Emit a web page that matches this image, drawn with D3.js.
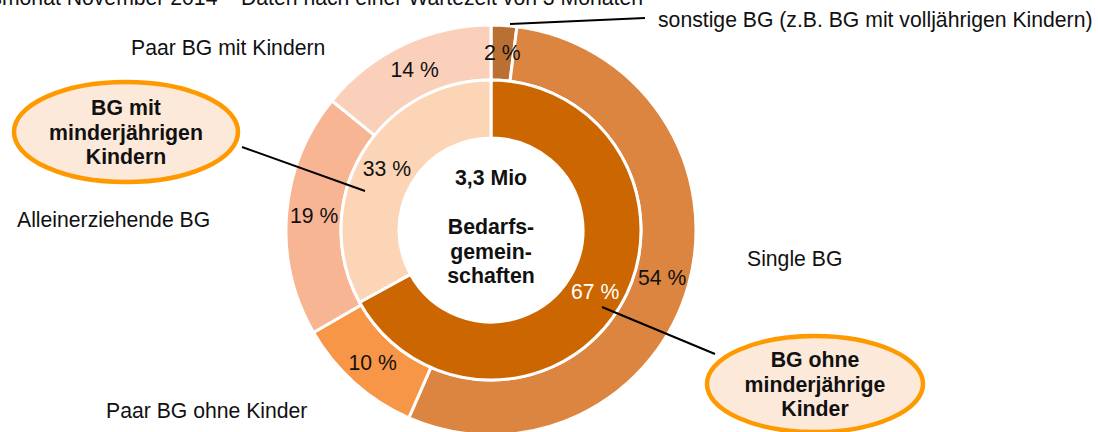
<!DOCTYPE html>
<html>
<head>
<meta charset="utf-8">
<script src="https://cdn.jsdelivr.net/npm/d3@7"></script>
<style>
  body { margin: 0; background: #fff; }
  svg { display: block; font-family: "Liberation Sans", Arial, sans-serif; }
</style>
</head>
<body>
<div id="chart"></div>
<script>
// ----------------------------------------
// DATA
// ----------------------------------------
const innerLabels = ["BG ohne minderjährige Kinder", "BG mit minderjährigen Kindern"];
const innerValues = [67, 33];
const innerColors = ["#CC6600", "#FBD5B5"];

const outerLabels = ["sonstige BG (z.B. BG mit volljährigen Kindern)", "Single BG",
  "Paar BG ohne Kinder", "Alleinerziehende BG", "Paar BG mit Kindern"];
const outerValues = [2, 54, 10, 19, 14];
const outerColors = ["#BB7033", "#DC8540", "#F79646", "#F8B593", "#FAD0BB"];

const centerLines = ["3,3 Mio", "", "Bedarfs-", "gemein-", "schaften"];
const subtitle = "Berichtsmonat November 2014 – Daten nach einer Wartezeit von 3 Monaten";

// ----------------------------------------
// SETUP
// ----------------------------------------
const width = 1098, height = 432;
const cx = 491, cy = 230;
const rHole = 92, rMid = 150, rOuter = 205;
const fs = "21.2px", fsBold = "21.3px";

const svg = d3.select("#chart")
  .append("svg")
  .attr("width", width)
  .attr("height", height);

const pie = d3.pie().sort(null).value(d => d);

const arcInner = d3.arc().innerRadius(rHole).outerRadius(rMid);
const arcOuter = d3.arc().innerRadius(rMid).outerRadius(rOuter);

const g = svg.append("g").attr("transform", `translate(${cx},${cy})`);

// ----------------------------------------
// RINGS
// ----------------------------------------
const innerArcs = pie(innerValues);
const outerArcs = pie(outerValues);

g.selectAll(".outer")
  .data(outerArcs)
  .join("path")
  .attr("class", "outer")
  .attr("d", arcOuter)
  .attr("fill", (d, i) => outerColors[i])
  .attr("stroke", "white")
  .attr("stroke-width", 3);

g.selectAll(".inner")
  .data(innerArcs)
  .join("path")
  .attr("class", "inner")
  .attr("d", arcInner)
  .attr("fill", (d, i) => innerColors[i])
  .attr("stroke", "white")
  .attr("stroke-width", 3);

// percent labels
g.selectAll(".outer-pct")
  .data(outerArcs)
  .join("text")
  .attr("class", "outer-pct")
  .attr("x", d => arcOuter.centroid(d)[0])
  .attr("y", d => arcOuter.centroid(d)[1])
  .attr("text-anchor", "middle")
  .attr("dominant-baseline", "central")
  .style("font-size", fs)
  .attr("fill", "#111")
  .text(d => d.data + " %");

g.selectAll(".inner-pct")
  .data(innerArcs)
  .join("text")
  .attr("class", "inner-pct")
  .attr("x", d => arcInner.centroid(d)[0])
  .attr("y", d => arcInner.centroid(d)[1])
  .attr("text-anchor", "middle")
  .attr("dominant-baseline", "central")
  .style("font-size", fs)
  .attr("fill", (d, i) => i === 0 ? "white" : "#111")
  .text(d => d.data + " %");

// center text
g.selectAll(".center-txt")
  .data(centerLines)
  .join("text")
  .attr("class", "center-txt")
  .attr("x", 0)
  .attr("y", (d, i) => -45 + i * 24.5)
  .attr("text-anchor", "middle")
  .style("font-size", fsBold)
  .style("font-weight", "bold")
  .attr("fill", "#111")
  .text(d => d);

// ----------------------------------------
// CATEGORY LABELS
// ----------------------------------------
const labelPos = [
  { x: 658, y: 27 },
  { x: 747, y: 266 },
  { x: 106, y: 418 },
  { x: 17, y: 227 },
  { x: 131, y: 55 }
];

svg.selectAll(".cat-label")
  .data(outerLabels)
  .join("text")
  .attr("class", "cat-label")
  .attr("x", (d, i) => labelPos[i].x)
  .attr("y", (d, i) => labelPos[i].y)
  .style("font-size", fs)
  .attr("fill", "#111")
  .text(d => d);

// leader for sonstige
svg.append("line")
  .attr("x1", 510).attr("y1", 24)
  .attr("x2", 645).attr("y2", 18)
  .attr("stroke", "black")
  .attr("stroke-width", 2);

// subtitle, clipped at the top as in the source
svg.append("text")
  .attr("x", 643)
  .attr("y", 5)
  .attr("text-anchor", "end")
  .style("font-size", fs)
  .attr("fill", "#111")
  .text(subtitle);

// ----------------------------------------
// CALLOUT ELLIPSES
// ----------------------------------------
const callouts = [
  { cx: 815, cy: 384, rx: 108, ry: 48, lines: ["BG ohne", "minderjährige", "Kinder"],
    from: [602, 307], to: [715, 354] },
  { cx: 126, cy: 132, rx: 112, ry: 50, lines: ["BG mit", "minderjährigen", "Kindern"],
    from: [365, 191], to: [242, 147] }
];

callouts.forEach(c => {
  svg.append("line")
    .attr("x1", c.from[0]).attr("y1", c.from[1])
    .attr("x2", c.to[0]).attr("y2", c.to[1])
    .attr("stroke", "black")
    .attr("stroke-width", 2);

  svg.append("ellipse")
    .attr("cx", c.cx).attr("cy", c.cy)
    .attr("rx", c.rx).attr("ry", c.ry)
    .attr("fill", "#FDE9D9")
    .attr("stroke", "#FF9900")
    .attr("stroke-width", 4.5);

  svg.selectAll(null)
    .data(c.lines)
    .join("text")
    .attr("x", c.cx)
    .attr("y", (d, i) => c.cy - 17 + i * 24.5)
    .attr("text-anchor", "middle")
    .style("font-size", fsBold)
    .style("font-weight", "bold")
    .attr("fill", "#111")
    .text(d => d);
});
</script>
</body>
</html>
